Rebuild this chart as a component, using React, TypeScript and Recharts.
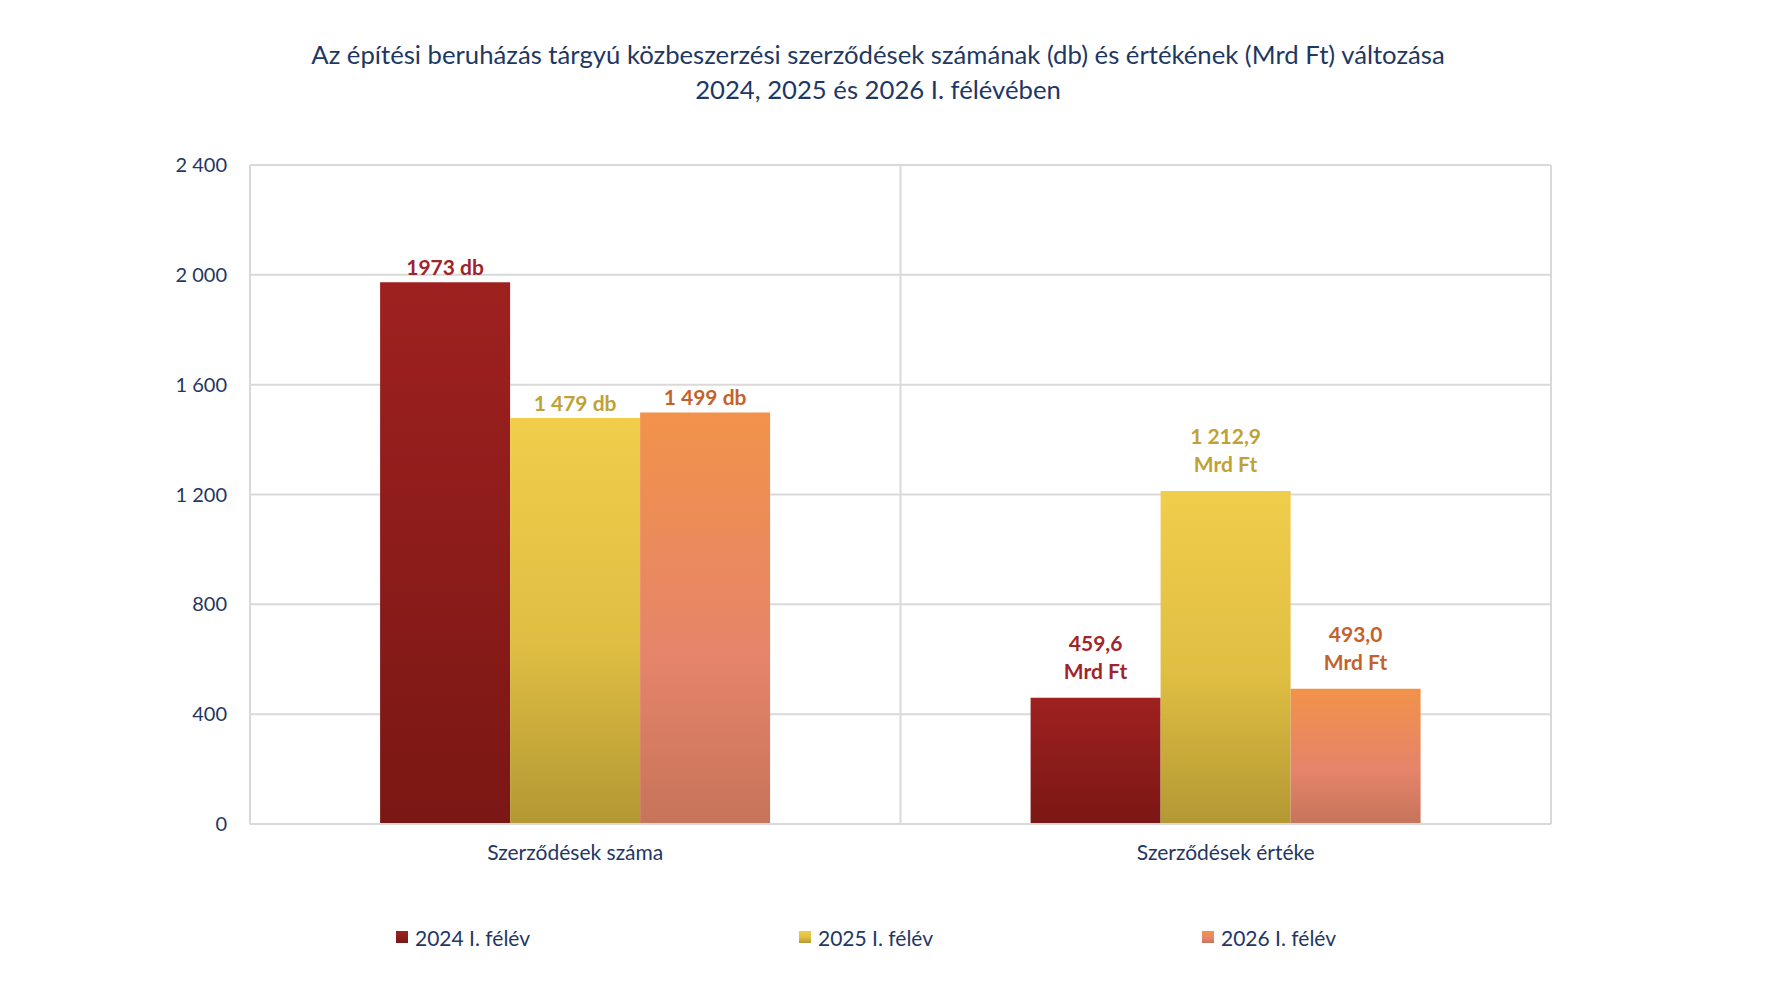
import React from "react";
import {
  BarChart, Bar, XAxis, YAxis, CartesianGrid, Legend, LabelList,
} from "recharts";

// categories, values and the printed bar labels
const CATEGORIES = ["Szerződések száma", "Szerződések értéke"];
const SERIES_NAMES = ["2024 I. félév", "2025 I. félév", "2026 I. félév"];
const VALUES_2024 = [1973, 459.6];
const VALUES_2025 = [1479, 1212.9];
const VALUES_2026 = [1499, 493.0];
const LABELS_2024 = ["1973 db", "459,6\nMrd Ft"];
const LABELS_2025 = ["1 479 db", "1 212,9\nMrd Ft"];
const LABELS_2026 = ["1 499 db", "493,0\nMrd Ft"];
const Y_TICKS = [0, 400, 800, 1200, 1600, 2000, 2400];

const NAVY = "#1F3763";
const FONT = "Lato, 'Open Sans', sans-serif";
const GRID = "#d9d9d9";

const data = CATEGORIES.map((name, i) => ({
  name,
  v2024: VALUES_2024[i],
  v2025: VALUES_2025[i],
  v2026: VALUES_2026[i],
}));

const SERIES = [
  { key: "v2024", name: SERIES_NAMES[0], grad: "g2024", labels: LABELS_2024, color: "#A0252A" },
  { key: "v2025", name: SERIES_NAMES[1], grad: "g2025", labels: LABELS_2025, color: "#BFA236" },
  { key: "v2026", name: SERIES_NAMES[2], grad: "g2026", labels: LABELS_2026, color: "#C4622D" },
];

const fmt = (v: number) => String(v).replace(/\B(?=(\d{3})+(?!\d))/g, " ");

function Gradients() {
  return (
    <defs>
      <linearGradient id="g2024" x1="0" y1="0" x2="0" y2="1">
        <stop offset="0%" stopColor="#9E2120" />
        <stop offset="100%" stopColor="#7A1714" />
      </linearGradient>
      <linearGradient id="g2025" x1="0" y1="0" x2="0" y2="1">
        <stop offset="0%" stopColor="#F0CD4A" />
        <stop offset="55%" stopColor="#E0BE43" />
        <stop offset="100%" stopColor="#B39833" />
      </linearGradient>
      <linearGradient id="g2026" x1="0" y1="0" x2="0" y2="1">
        <stop offset="0%" stopColor="#F2924A" />
        <stop offset="60%" stopColor="#E5846A" />
        <stop offset="100%" stopColor="#C6745A" />
      </linearGradient>
    </defs>
  );
}

function makeLabel(labels: string[], color: string) {
  return (props: any) => {
    const { x = 0, y = 0, width = 0, index = 0 } = props;
    const lines = (labels[index] ?? "").split("\n");
    const cx = Number(x) + Number(width) / 2;
    const baseY = lines.length > 1 ? Number(y) - 19 : Number(y) - 7;
    return (
      <text textAnchor="middle" fill={color} fontSize={21} fontWeight={700} fontFamily={FONT}>
        {lines.map((ln, i) => (
          <tspan key={i} x={cx} y={baseY - (lines.length - 1 - i) * 28}>{ln}</tspan>
        ))}
      </text>
    );
  };
}

function LegendContent() {
  return (
    <div style={{ height: 40, display: "flex", alignItems: "center", paddingLeft: 388, boxSizing: "border-box" }}>
      {SERIES.map((s) => (
        <div key={s.key} style={{ width: 403, flexShrink: 0, display: "flex", alignItems: "center" }}>
          <svg width={12} height={12} style={{ marginRight: 7 }}>
            <Gradients />
            <rect width={12} height={12} fill={`url(#${s.grad})`} />
          </svg>
          <span style={{ color: NAVY, fontSize: 21, fontFamily: FONT, whiteSpace: "nowrap" }}>{s.name}</span>
        </div>
      ))}
    </div>
  );
}

export default function App() {
  return (
    <div style={{ position: "relative", width: 1756, height: 978, fontFamily: FONT, background: "#fff" }}>
      <div
        style={{
          position: "absolute", top: 29, left: 0, width: 1740, textAlign: "center",
          color: NAVY, fontSize: 25.7, lineHeight: "35px",
        }}
      >
        Az építési beruházás tárgyú közbeszerzési szerződések számának (db) és értékének (Mrd Ft) változása
        <br />
        2024, 2025 és 2026 I. félévében
      </div>
      <BarChart
        width={1756}
        height={978}
        data={data}
        margin={{ top: 157, right: 213, bottom: 29, left: 0 }}
        barCategoryGap="20%"
        barGap={0}
      >
        <Gradients />
        <CartesianGrid
          stroke={GRID}
          strokeWidth={2}
          verticalCoordinatesGenerator={({ offset }: any) => [
            offset.left, offset.left + offset.width / 2, offset.left + offset.width,
          ]}
        />
        <XAxis
          dataKey="name"
          height={93}
          axisLine={{ stroke: GRID, strokeWidth: 2 }}
          tickLine={false}
          tickSize={0}
          tickMargin={21}
          tick={{ fill: NAVY, fontSize: 21, fontFamily: FONT }}
        />
        <YAxis
          width={242}
          domain={[0, 2400]}
          ticks={Y_TICKS}
          tickFormatter={fmt}
          axisLine={{ stroke: GRID, strokeWidth: 2 }}
          tickLine={false}
          tickSize={0}
          tickMargin={23}
          tick={{ fill: NAVY, fontSize: 20, fontFamily: FONT }}
        />
        <Legend verticalAlign="bottom" content={<LegendContent />} />
        {SERIES.map((s) => (
          <Bar key={s.key} dataKey={s.key} name={s.name} fill={`url(#${s.grad})`} isAnimationActive={false}>
            <LabelList dataKey={s.key} content={makeLabel(s.labels, s.color)} />
          </Bar>
        ))}
      </BarChart>
    </div>
  );
}
